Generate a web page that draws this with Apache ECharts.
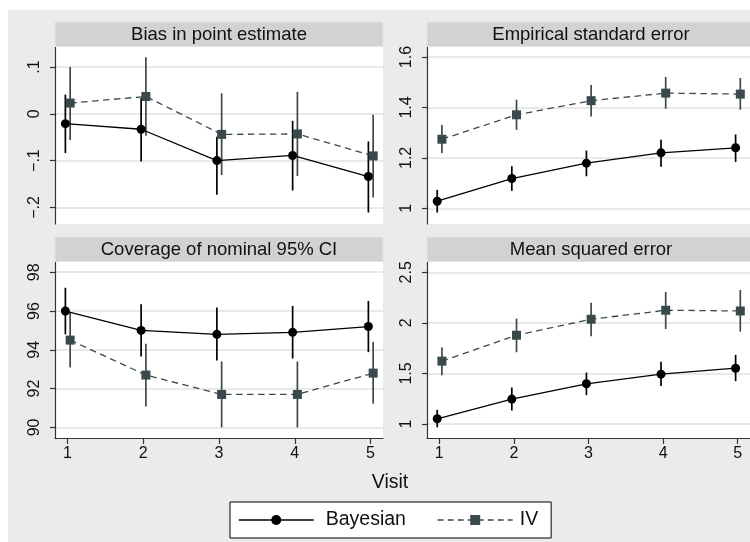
<!DOCTYPE html>
<html>
<head>
<meta charset="utf-8">
<script src="https://cdn.jsdelivr.net/npm/echarts@6/dist/echarts.min.js"></script>
<style>
html,body{margin:0;padding:0;background:#fff;}
#chart{width:750px;height:542px;}
</style>
</head>
<body>
<div id="chart"></div>
<script>
// ---------- data ----------
const visits = [1, 2, 3, 4, 5];
const visitTicks = [1, 2, 3, 4, 5];
const visitTickLabels = ['1', '2', '3', '4', '5'];

const panelTitles = ['Bias in point estimate', 'Empirical standard error', 'Coverage of nominal 95% CI', 'Mean squared error'];
const seriesNames = ['Bayesian', 'IV'];

// Bias in point estimate
const biasBayes   = [-0.021, -0.033, -0.100, -0.089, -0.134];
const biasBayesLo = [-0.084, -0.102, -0.173, -0.164, -0.211];
const biasBayesHi = [0.041, 0.034, -0.049, -0.015, -0.059];
const biasIV      = [0.023, 0.037, -0.044, -0.043, -0.090];
const biasIVLo    = [-0.056, -0.047, -0.131, -0.133, -0.179];
const biasIVHi    = [0.100, 0.121, 0.044, 0.047, -0.002];
const biasTicks = [-0.2, -0.1, 0, 0.1];
const biasTickLabels = ['\u2212.2', '\u2212.1', '0', '.1'];

// Empirical standard error
const seBayes   = [1.028, 1.118, 1.179, 1.220, 1.240];
const seBayesLo = [0.983, 1.069, 1.127, 1.165, 1.184];
const seBayesHi = [1.073, 1.167, 1.229, 1.272, 1.293];
const seIV      = [1.274, 1.371, 1.427, 1.457, 1.453];
const seIVLo    = [1.219, 1.311, 1.364, 1.395, 1.391];
const seIVHi    = [1.330, 1.431, 1.489, 1.521, 1.517];
const seTicks = [1, 1.2, 1.4, 1.6];
const seTickLabels = ['1', '1.2', '1.4', '1.6'];

// Coverage of nominal 95% CI
const covBayes   = [96.0, 95.0, 94.8, 94.9, 95.2];
const covBayesLo = [94.8, 93.65, 93.45, 93.55, 93.88];
const covBayesHi = [97.2, 96.35, 96.18, 96.26, 96.52];
const covIV      = [94.5, 92.7, 91.7, 91.7, 92.8];
const covIVLo    = [93.09, 91.08, 90.0, 90.0, 91.22];
const covIVHi    = [95.9, 94.31, 93.4, 93.4, 94.4];
const covTicks = [90, 92, 94, 96, 98];
const covTickLabels = ['90', '92', '94', '96', '98'];

// Mean squared error
const mseBayes   = [1.052, 1.247, 1.398, 1.493, 1.552];
const mseBayesLo = [0.967, 1.134, 1.286, 1.375, 1.424];
const mseBayesHi = [1.141, 1.361, 1.509, 1.615, 1.684];
const mseIV      = [1.622, 1.878, 2.036, 2.125, 2.118];
const mseIVLo    = [1.483, 1.710, 1.868, 1.940, 1.914];
const mseIVHi    = [1.756, 2.042, 2.200, 2.306, 2.325];
const mseTicks = [1, 1.5, 2, 2.5];
const mseTickLabels = ['1', '1.5', '2', '2.5'];

// ---------- styling / layout ----------
const FONT = 'Liberation Sans';
const COL_B = '#000000';
const COL_IV = '#3a4a4c';
const OFF_B = -0.028, OFF_IV = 0.035;
const X_MIN = 0.835, X_MAX = 5.165;
const DASH = [6.5, 4.5];
const LEGEND_DASH = [6, 4];

const panels = [
  {title: panelTitles[0], b: biasBayes, bl: biasBayesLo, bh: biasBayesHi, v: biasIV, vl: biasIVLo, vh: biasIVHi, ticks: biasTicks, labels: biasTickLabels, min: -0.2355, max: 0.1428, left: 55, top: 47, h: 177, bottom: false},
  {title: panelTitles[1], b: seBayes, bl: seBayesLo, bh: seBayesHi, v: seIV, vl: seIVLo, vh: seIVHi, ticks: seTicks, labels: seTickLabels, min: 0.9376, max: 1.640, left: 427, top: 47, h: 177, bottom: false},
  {title: panelTitles[2], b: covBayes, bl: covBayesLo, bh: covBayesHi, v: covIV, vl: covIVLo, vh: covIVHi, ticks: covTicks, labels: covTickLabels, min: 89.454, max: 98.528, left: 55, top: 262, h: 176, bottom: true},
  {title: panelTitles[3], b: mseBayes, bl: mseBayesLo, bh: mseBayesHi, v: mseIV, vl: mseIVLo, vh: mseIVHi, ticks: mseTicks, labels: mseTickLabels, min: 0.862, max: 2.602, left: 427, top: 262, h: 176, bottom: true}
];
const PW = 328;

const grids = [], xAxes = [], yAxes = [], series = [], graphics = [];

graphics.push({type: 'rect', shape: {x: 8, y: 10, width: 750, height: 542}, style: {fill: '#ebebeb'}, z: -10, silent: true});

function labelFor(ticks, labels) {
  return function (v) {
    for (let i = 0; i < ticks.length; i++) if (Math.abs(ticks[i] - v) < 1e-9) return labels[i];
    return '';
  };
}

function ciRender(color) {
  return function (params, api) {
    const x = api.value(0);
    const p1 = api.coord([x, api.value(1)]);
    const p2 = api.coord([x, api.value(2)]);
    return {type: 'line', shape: {x1: p1[0], y1: p1[1], x2: p2[0], y2: p2[1]}, style: {stroke: color, lineWidth: 1.7}};
  };
}

panels.forEach((p, i) => {
  grids.push({left: p.left, top: p.top, width: PW, height: p.h, show: true, backgroundColor: '#ffffff', borderWidth: 0, containLabel: false});
  xAxes.push({
    type: 'value', gridIndex: i, min: X_MIN, max: X_MAX, show: p.bottom,
    axisLine: {show: true, onZero: false, lineStyle: {color: '#333', width: 1.2}},
    axisTick: {show: true, length: 6, customValues: visitTicks, lineStyle: {color: '#333', width: 1.2}},
    axisLabel: {customValues: visitTicks, margin: 8, fontSize: 16, color: '#111', fontFamily: FONT, formatter: labelFor(visitTicks, visitTickLabels)},
    splitLine: {show: false}
  });
  yAxes.push({
    type: 'value', gridIndex: i, min: p.min, max: p.max,
    axisLine: {show: true, onZero: false, lineStyle: {color: '#333', width: 1.2}},
    axisTick: {show: true, length: 5, customValues: p.ticks, lineStyle: {color: '#333', width: 1.2}},
    axisLabel: {customValues: p.ticks, rotate: 90, margin: 12.5, fontSize: 16, color: '#111', fontFamily: FONT, formatter: labelFor(p.ticks, p.labels)},
    splitLine: {show: true, lineStyle: {color: '#e2e2e2', width: 1.5}}
  });
  series.push({
    type: 'custom', name: 'Bayesian CI', xAxisIndex: i, yAxisIndex: i, renderItem: ciRender(COL_B), z: 2,
    data: visits.map((x, k) => [x + OFF_B, p.bl[k], p.bh[k]])
  });
  series.push({
    type: 'custom', name: 'IV CI', xAxisIndex: i, yAxisIndex: i, renderItem: ciRender(COL_IV), z: 2,
    data: visits.map((x, k) => [x + OFF_IV, p.vl[k], p.vh[k]])
  });
  series.push({
    type: 'line', name: seriesNames[1], xAxisIndex: i, yAxisIndex: i, z: 3,
    data: visits.map((x, k) => [x + OFF_IV, p.v[k]]),
    symbol: 'rect', symbolSize: 9, showSymbol: true,
    itemStyle: {color: COL_IV}, lineStyle: {color: COL_IV, width: 1.3, type: DASH}
  });
  series.push({
    type: 'line', name: seriesNames[0], xAxisIndex: i, yAxisIndex: i, z: 4,
    data: visits.map((x, k) => [x + OFF_B, p.b[k]]),
    symbol: 'circle', symbolSize: 9, showSymbol: true,
    itemStyle: {color: COL_B}, lineStyle: {color: COL_B, width: 1.3}
  });
  // strip
  const sy = p.top - 25;
  graphics.push({type: 'rect', shape: {x: p.left, y: sy, width: PW, height: 24.5}, style: {fill: '#d0d2d4', stroke: '#dfe4e7', lineWidth: 1}, z: 1, silent: true});
  graphics.push({type: 'text', x: p.left + PW / 2, y: sy + 12.5, style: {text: p.title, font: '18.5px "' + FONT + '"', fill: '#111', textAlign: 'center', textVerticalAlign: 'middle'}, z: 2, silent: true});
});

graphics.push({type: 'text', x: 390, y: 483, style: {text: 'Visit', font: '19.5px "' + FONT + '"', fill: '#111', textAlign: 'center', textVerticalAlign: 'middle'}, silent: true});

const chart = echarts.init(document.getElementById('chart'), null, {renderer: 'canvas'});
chart.setOption({
  animation: false,
  backgroundColor: '#ffffff',
  textStyle: {fontFamily: FONT},
  grid: grids,
  xAxis: xAxes,
  yAxis: yAxes,
  legend: {
    left: 230, top: 502,
    data: [
      {name: seriesNames[0], textStyle: {padding: [0, 0, 0, 7]}, lineStyle: {width: 1.5}},
      {name: seriesNames[1], textStyle: {padding: [0, 0, 0, 2]}, lineStyle: {width: 1.5, type: LEGEND_DASH}}
    ],
    itemWidth: 75, itemHeight: 12.5, itemGap: 31,
    padding: [8, 13, 8, 8],
    backgroundColor: '#ffffff', borderColor: '#000', borderWidth: 1, borderRadius: 0,
    textStyle: {fontSize: 19.5, color: '#111', fontFamily: FONT}
  },
  graphic: graphics,
  series: series
});
</script>
</body>
</html>
